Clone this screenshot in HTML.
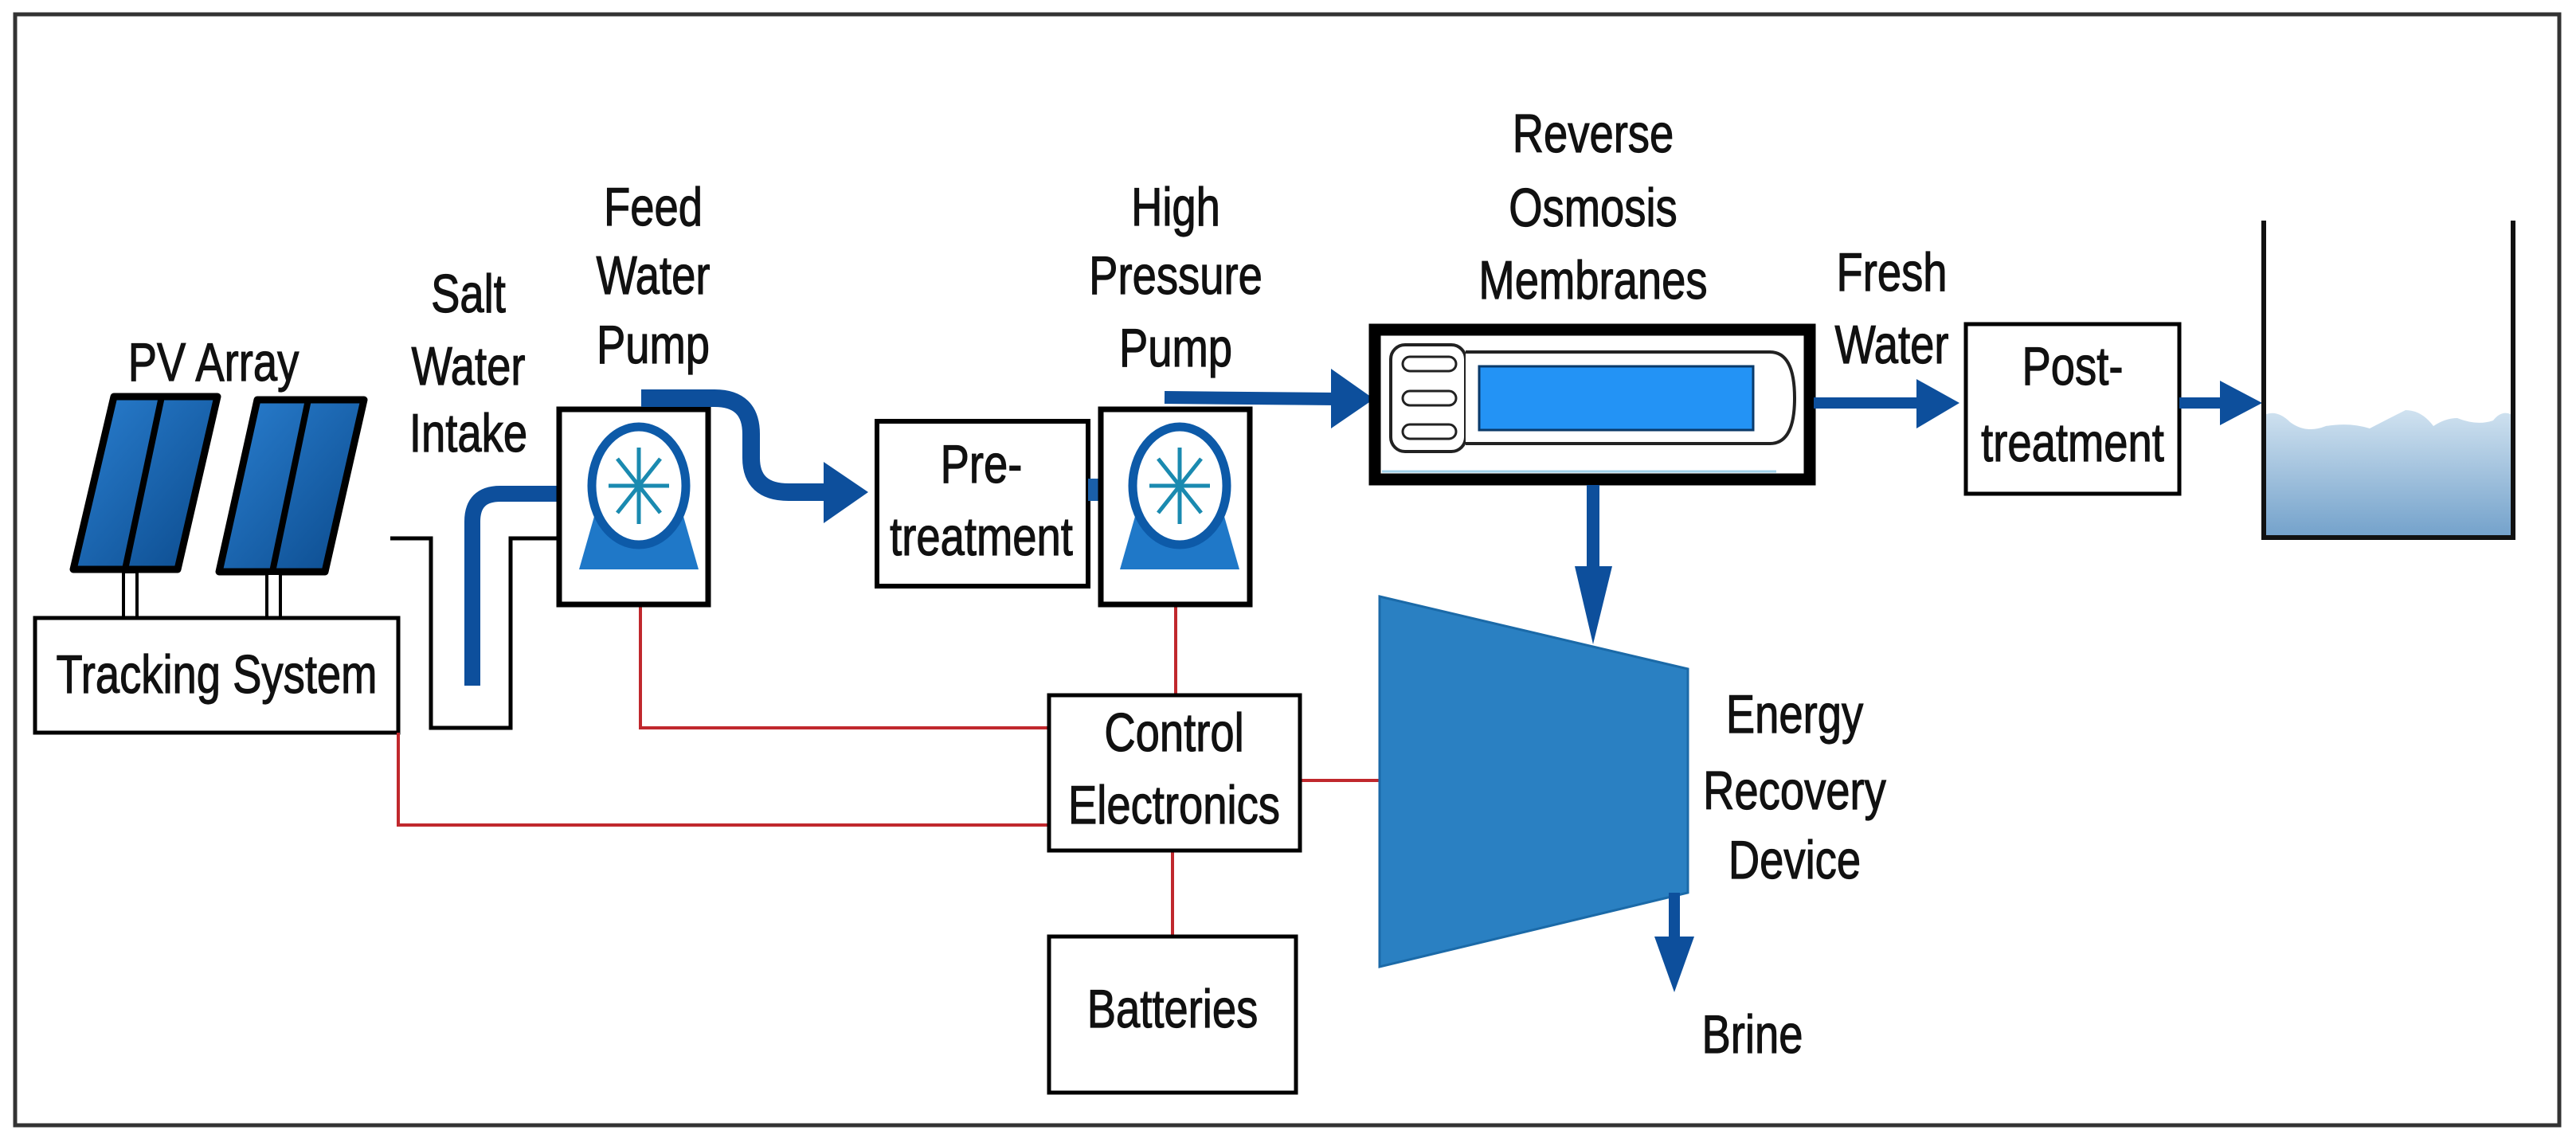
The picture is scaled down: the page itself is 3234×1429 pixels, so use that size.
<!DOCTYPE html>
<html><head><meta charset="utf-8"><style>
html,body{margin:0;padding:0;background:#fff;}
svg{display:block;}
text{font-family:"Liberation Sans",sans-serif;font-size:68px;fill:#111;stroke:#111;stroke-width:1.2px;text-anchor:middle;}
</style></head><body>
<svg width="3234" height="1429" viewBox="0 0 3234 1429" xmlns="http://www.w3.org/2000/svg">
<defs>
<linearGradient id="pv" x1="0" y1="0" x2="1" y2="1">
<stop offset="0" stop-color="#2a7fd0"/><stop offset="1" stop-color="#0b4a8c"/></linearGradient>
<linearGradient id="wat" x1="0" y1="0" x2="0" y2="1">
<stop offset="0" stop-color="#d0e2f0"/><stop offset="1" stop-color="#74a2cb"/></linearGradient>
</defs>
<rect x="0" y="0" width="3234" height="1429" fill="#fff"/>
<rect x="19" y="18" width="3194" height="1395" fill="none" stroke="#333" stroke-width="5"/>

<!-- PV panels -->
<polygon points="143,498 273,498 223,715 92,715" fill="url(#pv)" stroke="#000" stroke-width="9" stroke-linejoin="round"/>
<line x1="203" y1="498" x2="157" y2="715" stroke="#000" stroke-width="8"/>
<polygon points="323,502 457,502 408,718 275,718" fill="url(#pv)" stroke="#000" stroke-width="9" stroke-linejoin="round"/>
<line x1="387" y1="502" x2="342" y2="718" stroke="#000" stroke-width="8"/>
<rect x="155" y="718" width="17" height="58" fill="#fff" stroke="#000" stroke-width="4"/>
<rect x="335" y="720" width="17" height="56" fill="#fff" stroke="#000" stroke-width="4"/>
<rect x="44" y="776" width="456" height="144" fill="#fff" stroke="#000" stroke-width="5"/>

<!-- red wires -->
<g stroke="#c0282d" stroke-width="4" fill="none">
<polyline points="804,760 804,914 1317,914"/>
<polyline points="500,920 500,1036 1317,1036"/>
<line x1="1476" y1="760" x2="1476" y2="873"/>
<line x1="1472" y1="1068" x2="1472" y2="1176"/>
<line x1="1632" y1="980" x2="1732" y2="980"/>
</g>

<!-- intake channel -->
<polyline points="490,676 541,676 541,914 641,914 641,676 700,676" fill="none" stroke="#000" stroke-width="5"/>
<path d="M593,861 L593,655 Q593,620 628,620 L702,620" fill="none" stroke="#0d4f9c" stroke-width="20"/>

<!-- feed pump -->
<rect x="702" y="514" width="187" height="245" fill="#fff" stroke="#000" stroke-width="7"/>
<g transform="translate(802,610)">
<polygon points="-55,35 55,35 75,105 -75,105" fill="#1f78c8"/>
<ellipse cx="0" cy="0" rx="59" ry="74" fill="#fff" stroke="#0d5aa8" stroke-width="11"/>
<g stroke="#1a8ab0" stroke-width="5"><line x1="-38" y1="0" x2="38" y2="0"/><line x1="0" y1="-48" x2="0" y2="48"/><line x1="-27" y1="-34" x2="27" y2="34"/><line x1="-27" y1="34" x2="27" y2="-34"/></g>
</g>
<path d="M805,500 L897,500 Q943,500 943,545 L943,575 Q943,618 990,618 L1036,618" fill="none" stroke="#0d4f9c" stroke-width="22"/>
<polygon points="1034,580 1090,618 1034,657" fill="#0d4f9c"/>

<!-- pre-treatment -->
<rect x="1101" y="529" width="265" height="207" fill="#fff" stroke="#000" stroke-width="6"/>
<rect x="1366" y="601" width="16" height="28" fill="#1a5fa8"/>

<!-- HP pump -->
<rect x="1382" y="514" width="187" height="245" fill="#fff" stroke="#000" stroke-width="7"/>
<g transform="translate(1481,610)">
<polygon points="-55,35 55,35 75,105 -75,105" fill="#1f78c8"/>
<ellipse cx="0" cy="0" rx="59" ry="74" fill="#fff" stroke="#0d5aa8" stroke-width="11"/>
<g stroke="#1a8ab0" stroke-width="5"><line x1="-38" y1="0" x2="38" y2="0"/><line x1="0" y1="-48" x2="0" y2="48"/><line x1="-27" y1="-34" x2="27" y2="34"/><line x1="-27" y1="34" x2="27" y2="-34"/></g>
</g>
<polyline points="1462,499 1678,501" fill="none" stroke="#0d4f9c" stroke-width="16"/>
<polygon points="1671,463 1725,501 1671,538" fill="#0d4f9c"/>

<!-- membrane -->
<rect x="1726" y="414" width="546" height="188" fill="#fff" stroke="#000" stroke-width="15"/>
<rect x="1746" y="433" width="94" height="134" rx="18" fill="#fff" stroke="#222" stroke-width="4"/>
<rect x="1761" y="448" width="67" height="18" rx="9" fill="#fff" stroke="#222" stroke-width="3"/>
<rect x="1761" y="491" width="67" height="18" rx="9" fill="#fff" stroke="#222" stroke-width="3"/>
<rect x="1761" y="533" width="67" height="18" rx="9" fill="#fff" stroke="#222" stroke-width="3"/>
<path d="M1840,442 L2222,442 Q2253,442 2253,500 Q2253,557 2222,557 L1840,557" fill="#fff" stroke="#222" stroke-width="4"/>
<rect x="1857" y="460" width="344" height="80" fill="#2393f5" stroke="#0a3a6a" stroke-width="3"/>
<line x1="1735" y1="592" x2="2230" y2="592" stroke="#9fd0e8" stroke-width="3"/>

<!-- down arrow -->
<line x1="2000" y1="609" x2="2000" y2="715" stroke="#0d4f9c" stroke-width="16"/>
<polygon points="1977,711 2024,711 2000,809" fill="#0d4f9c"/>

<!-- ERD -->
<polygon points="1732,749 2119,840 2119,1121 1732,1214" fill="#2a80c2" stroke="#1b6aa8" stroke-width="3"/>
<line x1="2102" y1="1121" x2="2102" y2="1180" stroke="#0d4f9c" stroke-width="14"/>
<polygon points="2077,1176 2127,1176 2102,1246" fill="#0d4f9c"/>

<!-- fresh water arrow -->
<line x1="2277" y1="506" x2="2410" y2="506" stroke="#0d4f9c" stroke-width="14"/>
<polygon points="2406,476 2460,506 2406,538" fill="#0d4f9c"/>
<rect x="2468" y="407" width="268" height="213" fill="#fff" stroke="#000" stroke-width="5"/>
<line x1="2736" y1="506" x2="2790" y2="506" stroke="#0d4f9c" stroke-width="14"/>
<polygon points="2787,478 2840,506 2787,534" fill="#0d4f9c"/>

<!-- tank -->
<path d="M2845,520 Q2860,515 2875,530 Q2895,545 2920,535 Q2950,530 2975,538 Q3000,525 3020,515 Q3040,515 3055,535 Q3070,525 3085,525 Q3110,535 3130,528 Q3140,515 3152,520 L3152,673 L2845,673 Z" fill="url(#wat)"/>
<polyline points="2842,277 2842,675 3155,675 3155,277" fill="none" stroke="#111" stroke-width="6"/>

<!-- control & batteries -->
<rect x="1317" y="873" width="315" height="195" fill="#fff" stroke="#000" stroke-width="5"/>
<rect x="1317" y="1176" width="310" height="196" fill="#fff" stroke="#000" stroke-width="5"/>

<!-- labels -->
<g transform="translate(268,478) scale(0.8,1)"><text x="0" y="0">PV Array</text></g>
<g transform="translate(272,870) scale(0.8,1)"><text x="0" y="0">Tracking System</text></g>
<g transform="translate(588,0) scale(0.8,1)"><text x="0" y="392">Salt</text><text x="0" y="483">Water</text><text x="0" y="567">Intake</text></g>
<g transform="translate(820,0) scale(0.8,1)"><text x="0" y="283">Feed</text><text x="0" y="369">Water</text><text x="0" y="456">Pump</text></g>
<g transform="translate(1476,0) scale(0.8,1)"><text x="0" y="283">High</text><text x="0" y="369">Pressure</text><text x="0" y="460">Pump</text></g>
<g transform="translate(1232,0) scale(0.8,1)"><text x="0" y="606">Pre-</text><text x="0" y="697">treatment</text></g>
<g transform="translate(1474,0) scale(0.8,1)"><text x="0" y="943">Control</text><text x="0" y="1034">Electronics</text></g>
<g transform="translate(1472,0) scale(0.8,1)"><text x="0" y="1290">Batteries</text></g>
<g transform="translate(2000,0) scale(0.8,1)"><text x="0" y="191">Reverse</text><text x="0" y="284">Osmosis</text><text x="0" y="375">Membranes</text></g>
<g transform="translate(2375,0) scale(0.8,1)"><text x="0" y="365">Fresh</text><text x="0" y="456">Water</text></g>
<g transform="translate(2602,0) scale(0.8,1)"><text x="0" y="483">Post-</text><text x="0" y="579">treatment</text></g>
<g transform="translate(2253,0) scale(0.8,1)"><text x="0" y="920">Energy</text><text x="0" y="1016">Recovery</text><text x="0" y="1103">Device</text></g>
<g transform="translate(2200,0) scale(0.8,1)"><text x="0" y="1322">Brine</text></g>
</svg>
</body></html>
